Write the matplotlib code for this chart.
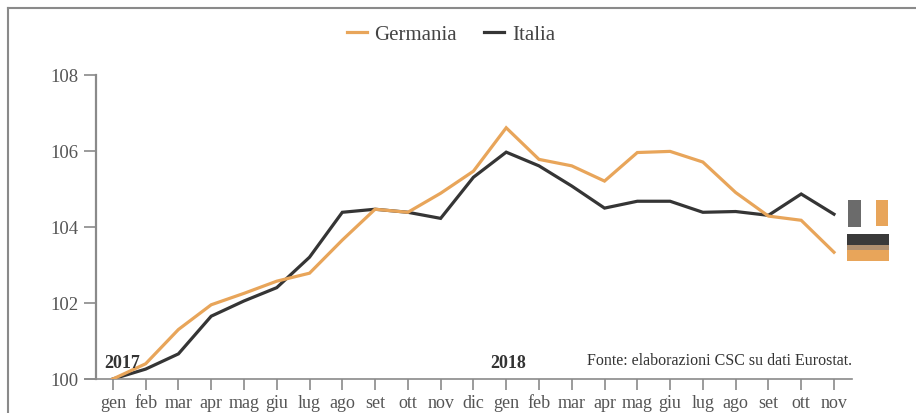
import matplotlib
matplotlib.use("Agg")
import matplotlib.pyplot as plt
from matplotlib.patches import Rectangle
from matplotlib.lines import Line2D

months = ["gen", "feb", "mar", "apr", "mag", "giu", "lug", "ago", "set", "ott", "nov", "dic",
          "gen", "feb", "mar", "apr", "mag", "giu", "lug", "ago", "set", "ott", "nov"]
germania = [100.0, 100.4, 101.3, 101.95, 102.25, 102.57, 102.78, 103.65, 104.46, 104.38, 104.88, 105.46,
            106.6, 105.77, 105.6, 105.2, 105.95, 105.98, 105.7, 104.9, 104.28, 104.17, 103.33]
italia = [100.0, 100.26, 100.66, 101.65, 102.05, 102.4, 103.2, 104.38, 104.46, 104.38, 104.22, 105.3,
          105.96, 105.6, 105.07, 104.49, 104.67, 104.67, 104.38, 104.4, 104.3, 104.86, 104.33]
yticks = [100, 102, 104, 106, 108]

ORANGE = "#E8A55A"
DARK = "#353535"
GRID = "#8a8a8a"

plt.rcParams["font.family"] = ["Liberation Serif", "DejaVu Serif"]

W, H = 916, 414
fig = plt.figure(figsize=(W / 100, H / 100), dpi=100)

x0, x1 = 85.0, 852.0
y0, y1 = 380.0, 75.5
ax = fig.add_axes([x0 / W, (H - y0) / H, (x1 - x0) / W, (y0 - y1) / H])

x = list(range(len(months)))
ax.plot(x, germania, color=ORANGE, lw=2.3, solid_joinstyle="miter", label="Germania", zorder=3)
ax.plot(x, italia, color=DARK, lw=2.3, solid_joinstyle="miter", label="Italia", zorder=2)

ax.set_xlim(-0.85, 22.55)
ax.set_ylim(100, 108)
ax.set_yticks(yticks)
ax.set_yticklabels([str(v) for v in yticks])
ax.set_xticks(x)
ax.set_xticklabels(months)

for s in ["top", "right"]:
    ax.spines[s].set_visible(False)
ax.spines["left"].set_position(("data", -0.5))
ax.spines["left"].set_color(GRID)
ax.spines["left"].set_linewidth(1.6)
ax.spines["bottom"].set_color(GRID)
ax.spines["bottom"].set_linewidth(1.2)
ax.tick_params(axis="y", direction="out", length=9, width=1.2, color=GRID,
               labelsize=13.5, labelcolor="#555555", pad=4)
ax.tick_params(axis="x", direction="out", length=8, width=1.2, color=GRID,
               labelsize=13, labelcolor="#555555", pad=3)

ax.text(-0.25, 100.22, "2017", fontsize=13, fontweight="bold", color="#333333",
        ha="left", va="bottom")
ax.text(11.5, 100.22, "2018", fontsize=13, fontweight="bold", color="#333333",
        ha="left", va="bottom")
ax.text(22.55, 100.3, "Fonte: elaborazioni CSC su dati Eurostat.", fontsize=11.5,
        color="#333333", ha="right", va="bottom")

handles = [Line2D([], [], color=ORANGE, lw=2.3), Line2D([], [], color=DARK, lw=2.3)]
fig.legend(handles, ["Germania", "Italia"], loc="center", bbox_to_anchor=(451 / W, 1 - 35 / H),
           ncol=2, frameon=False, fontsize=15, handlelength=0.95, handletextpad=0.38,
           columnspacing=1.3, labelcolor="#444444", borderpad=0, borderaxespad=0)

# outer frame (extends beyond the canvas on right and bottom)
fig.add_artist(Line2D([8 / W, 8 / W], [0, 1 - 9 / H], color="#8a8a8a", lw=1.5,
                      transform=fig.transFigure))
fig.add_artist(Line2D([8 / W, 1], [1 - 9 / H, 1 - 9 / H], color="#8a8a8a", lw=1.5,
                      transform=fig.transFigure))

# small swatch artifacts at right edge of the plot
def frect(px, py, pw, ph, color):
    fig.add_artist(Rectangle((px / W, 1 - (py + ph) / H), pw / W, ph / H,
                             color=color, transform=fig.transFigure, lw=0))

frect(848, 201, 13, 27, "#6b6b6b")
frect(876, 201, 12, 26, ORANGE)
frect(847, 235, 42, 11, "#3a3a3a")
frect(847, 246, 42, 5, "#b09070")
frect(847, 251, 42, 11, ORANGE)

fig.savefig("out.png", dpi=100)
